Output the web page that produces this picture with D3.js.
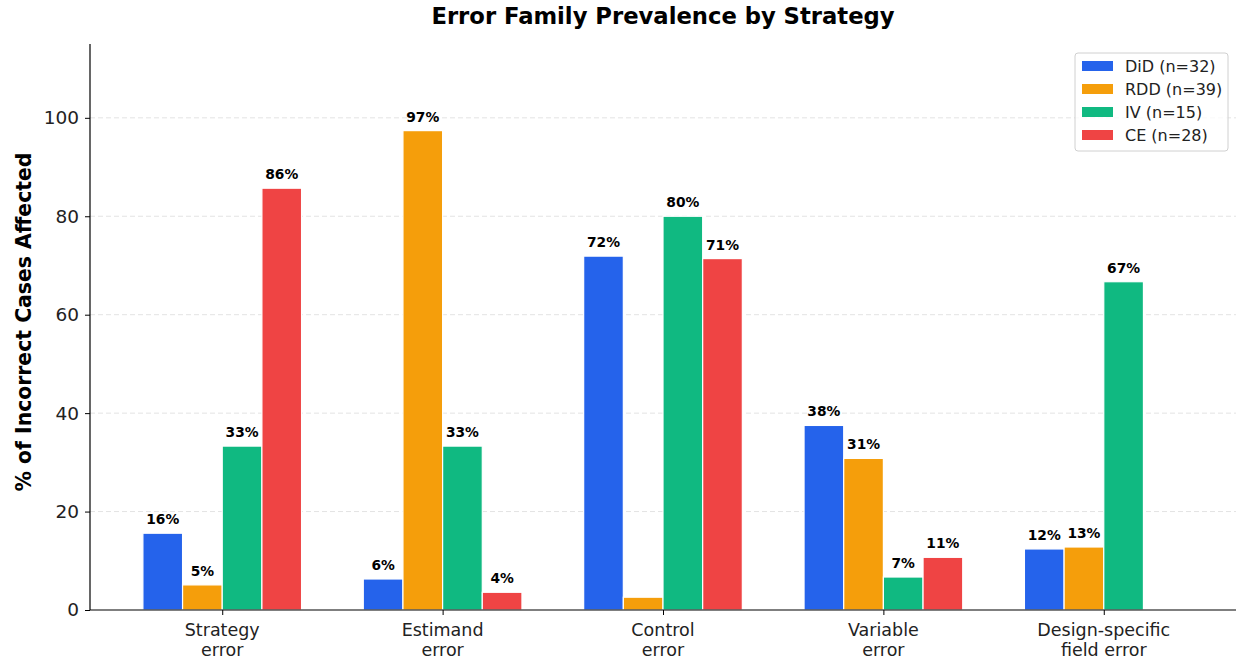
<!DOCTYPE html>
<html>
  <head>
    <meta charset="utf-8" />
    <title>Error Family Prevalence by Strategy</title>
    <style>
      body {
        margin: 0;
        background: #fff;
      }
      svg text {
        font-family: "DejaVu Sans", sans-serif;
      }
    </style>
    <script src="https://d3js.org/d3.v7.min.js"></script>
  </head>
  <body>
    <div id="chart"></div>
    <script type="text/javascript">
      // data
      var categories = [
        ["Strategy", "error"],
        ["Estimand", "error"],
        ["Control", "error"],
        ["Variable", "error"],
        ["Design-specific", "field error"],
      ];
      var seriesNames = ["DiD (n=32)", "RDD (n=39)", "IV (n=15)", "CE (n=28)"];
      var didValues = [15.6, 6.3, 71.9, 37.5, 12.4];
      var rddValues = [5.1, 97.4, 2.6, 30.8, 12.8];
      var ivValues = [33.3, 33.3, 80.0, 6.7, 66.7];
      var ceValues = [85.7, 3.6, 71.4, 10.7, 0];
      var yTicks = [0, 20, 40, 60, 80, 100];

      var colors = ["#2563eb", "#f59e0b", "#10b981", "#ef4444"];
      var series = [didValues, rddValues, ivValues, ceValues];

      var w = 1238;
      var h = 659;
      var margin = { left: 90, right: 2, top: 44, bottom: 49 };

      var svg = d3
        .select("#chart")
        .append("svg")
        .attr("width", w)
        .attr("height", h);

      var x = d3
        .scaleLinear()
        .domain([-0.6, 4.6])
        .range([margin.left, w - margin.right]);

      var y = d3
        .scaleLinear()
        .domain([0, 115])
        .range([h - margin.bottom, margin.top]);

      var barW = 0.18;

      // grid
      svg
        .append("g")
        .selectAll("line")
        .data(yTicks.slice(1))
        .enter()
        .append("line")
        .attr("x1", margin.left)
        .attr("x2", w - margin.right)
        .attr("y1", function (d) { return y(d); })
        .attr("y2", function (d) { return y(d); })
        .attr("stroke", "#e3e3e3")
        .attr("stroke-width", 1)
        .attr("stroke-dasharray", "5,3");

      // bars + value labels
      series.forEach(function (vals, si) {
        var g = svg.append("g");
        var items = vals.map(function (v, i) { return { i: i, v: v }; });
        g.selectAll("rect")
          .data(items)
          .enter()
          .append("rect")
          .attr("x", function (d) { return x(d.i + (si - 2) * barW); })
          .attr("width", x(barW) - x(0))
          .attr("y", function (d) { return y(d.v); })
          .attr("height", function (d) { return y(0) - y(d.v); })
          .attr("fill", colors[si])
          .attr("stroke", "#fff")
          .attr("stroke-width", 1.2);

        g.selectAll("text")
          .data(items.filter(function (d) { return d.v >= 3; }))
          .enter()
          .append("text")
          .attr("x", function (d) { return x(d.i + (si - 1.5) * barW); })
          .attr("y", function (d) { return y(d.v) - 9; })
          .attr("text-anchor", "middle")
          .attr("font-size", 13.8)
          .attr("font-weight", "bold")
          .attr("fill", "#000")
          .text(function (d) { return Math.round(d.v) + "%"; });
      });

      // axes
      var yAxis = svg
        .append("g")
        .attr("transform", "translate(" + margin.left + ",0)")
        .call(d3.axisLeft(y).tickValues(yTicks).tickSize(5).tickPadding(6));
      yAxis.select(".domain").attr("stroke", "#000").attr("stroke-width", 1.2)
        .attr("d", "M0," + y(0) + "V" + margin.top);
      yAxis.selectAll("text").attr("font-size", 18.5).attr("fill", "#222");

      var xAxis = svg
        .append("g")
        .attr("transform", "translate(0," + y(0) + ")")
        .call(
          d3.axisBottom(x)
            .tickValues(d3.range(categories.length))
            .tickSize(5)
            .tickFormat("")
        );
      xAxis.select(".domain").attr("stroke", "#000").attr("stroke-width", 1.2)
        .attr("d", "M" + margin.left + ",0H" + (w - margin.right));

      var xl = svg.append("g");
      categories.forEach(function (lines, i) {
        var t = xl
          .append("text")
          .attr("x", x(i))
          .attr("y", y(0) + 26)
          .attr("text-anchor", "middle")
          .attr("font-size", 17.5)
          .attr("fill", "#222");
        lines.forEach(function (s, j) {
          t.append("tspan")
            .attr("x", x(i))
            .attr("dy", j === 0 ? 0 : 20)
            .text(s);
        });
      });

      // y label
      svg
        .append("text")
        .attr("transform", "translate(31,322)rotate(-90)")
        .attr("text-anchor", "middle")
        .attr("font-size", 20.4)
        .attr("font-weight", "bold")
        .text("% of Incorrect Cases Affected");

      // title
      svg
        .append("text")
        .attr("x", (margin.left + w - margin.right) / 2)
        .attr("y", 24)
        .attr("text-anchor", "middle")
        .attr("font-size", 22.7)
        .attr("font-weight", "bold")
        .text("Error Family Prevalence by Strategy");

      // legend
      var lg = svg.append("g").attr("transform", "translate(1075,53)");
      lg.append("rect")
        .attr("width", 153)
        .attr("height", 98)
        .attr("rx", 3)
        .attr("fill", "#fff")
        .attr("fill-opacity", 0.8)
        .attr("stroke", "#d0d0d0");
      seriesNames.forEach(function (s, i) {
        lg.append("rect")
          .attr("x", 7)
          .attr("y", 8 + i * 23)
          .attr("width", 31)
          .attr("height", 10)
          .attr("fill", colors[i]);
        lg.append("text")
          .attr("x", 50)
          .attr("y", 19 + i * 23)
          .attr("font-size", 16)
          .attr("fill", "#222")
          .text(s);
      });
    </script>
  </body>
</html>
